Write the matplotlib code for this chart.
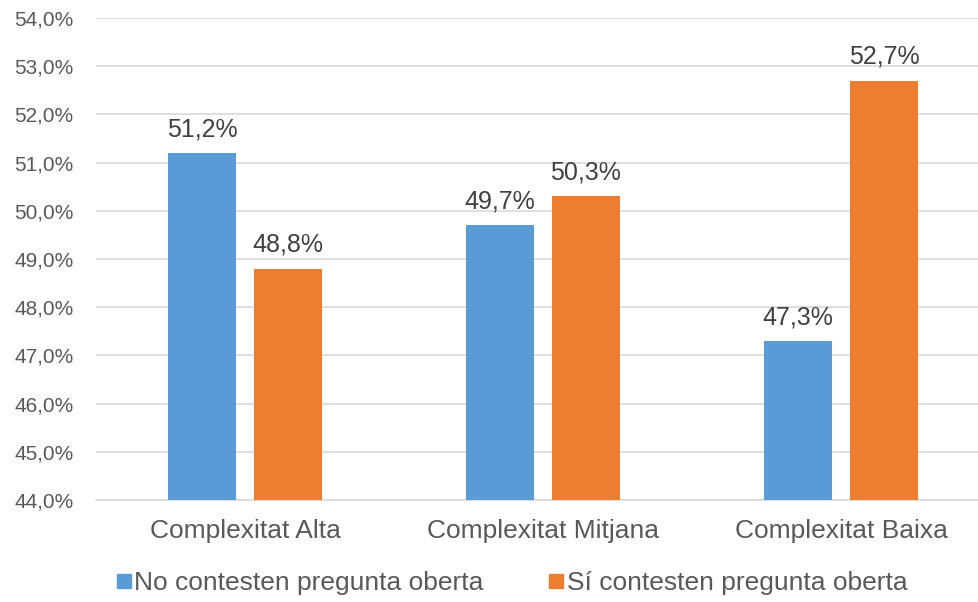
import matplotlib
matplotlib.use("Agg")
import matplotlib.pyplot as plt
import numpy as np
from matplotlib.lines import Line2D

plt.rcParams['font.family'] = ['Liberation Sans', 'DejaVu Sans']

categories = ["Complexitat Alta", "Complexitat Mitjana", "Complexitat Baixa"]
series_names = ["No contesten pregunta oberta", "Sí contesten pregunta oberta"]
no_vals = [51.2, 49.7, 47.3]
si_vals = [48.8, 50.3, 52.7]
yticks = [44, 45, 46, 47, 48, 49, 50, 51, 52, 53, 54]

blue = "#5B9BD5"
orange = "#ED7D31"
txt = "#595959"

W, H = 979, 602
fig = plt.figure(figsize=(W/100, H/100), dpi=100)
ax = fig.add_axes([96/W, 1 - 500/H, (979-96)/W, (500-18)/H])

x = np.arange(len(categories))
bw = 0.228
off = 0.144
b1 = ax.bar(x - off, no_vals, bw, color=blue, zorder=3)
b2 = ax.bar(x + off, si_vals, bw, color=orange, zorder=3)

def fmt(v):
    return f"{v:.1f}%".replace(".", ",")

for bars, vals in ((b1, no_vals), (b2, si_vals)):
    for r, v in zip(bars, vals):
        ax.annotate(fmt(v), (r.get_x() + r.get_width()/2, v), xytext=(0, 8.5),
                    textcoords="offset points", ha="center", va="bottom",
                    fontsize=18, color="#404040")

ax.set_ylim(44, 54)
ax.set_xlim(-0.5, (979-96)/298 - 0.5)
ax.set_yticks(yticks)
ax.set_yticklabels([fmt(v) for v in yticks], fontsize=15, color=txt)
ax.set_xticks(x)
ax.set_xticklabels(categories, fontsize=19, color=txt)
ax.tick_params(axis='both', length=0)
ax.tick_params(axis='y', pad=16)
ax.tick_params(axis='x', pad=14)
ax.grid(axis='y', color="#D9D9D9", linewidth=1.2, zorder=0)
for s in ["top", "right", "left"]:
    ax.spines[s].set_visible(False)
ax.spines["bottom"].set_color("#D9D9D9")
ax.spines["bottom"].set_linewidth(1.2)

handles = [Line2D([], [], marker='s', linestyle='none', markersize=9.5, color=blue),
           Line2D([], [], marker='s', linestyle='none', markersize=9.5, color=orange)]
fig.legend(handles, series_names, loc="center", bbox_to_anchor=(511/W, 1 - 583/H),
           ncol=2, frameon=False, fontsize=19, labelcolor=txt,
           handletextpad=0.05, columnspacing=2.4, handlelength=0.7)

fig.savefig("out.png", dpi=100, facecolor="white")
